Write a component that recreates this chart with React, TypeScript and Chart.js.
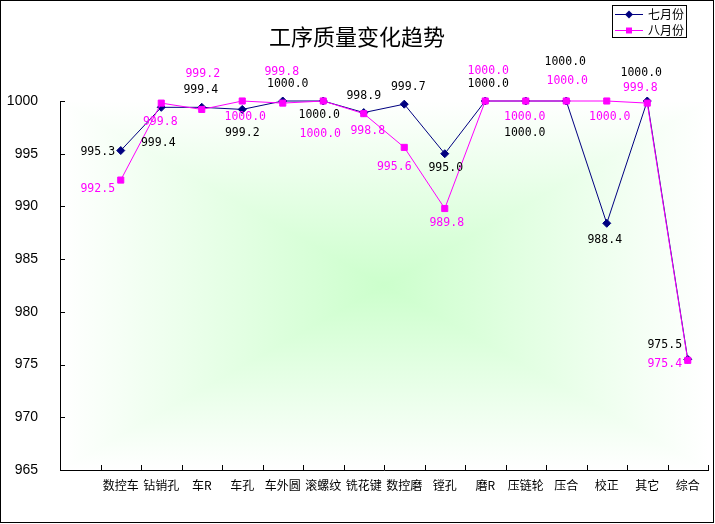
import { useEffect, useRef } from "react"
import { Chart, registerables, type ChartConfiguration, type Plugin } from "chart.js"

Chart.register(...registerables)

// first slot is an empty category, the reference leaves it blank
const categories = ["", "数控车", "钻销孔", "车R", "车孔", "车外圆", "滚螺纹", "铣花键", "数控磨", "镗孔", "磨R", "压链轮", "压合", "校正", "其它", "综合"]
const july = [null, 995.3, 999.4, 999.4, 999.2, 1000.0, 1000.0, 998.9, 999.7, 995.0, 1000.0, 1000.0, 1000.0, 988.4, 1000.0, 975.5]
const august = [null, 992.5, 999.8, 999.2, 1000.0, 999.8, 1000.0, 998.8, 995.6, 989.8, 1000.0, 1000.0, 1000.0, 1000.0, 999.8, 975.4]
const seriesNames = ["七月份", "八月份"]
const yMin = 965
const yMax = 1000
const yStep = 5
const title = "工序质量变化趋势"

// value label placement relative to each point, [dx, dy] in px
const julyLabelOffsets = [
  [0, 0], [-23, 1], [-3, 36], [-1, -17], [0, 24], [5, -17], [-4, 14], [0, -17],
  [4, -17], [1, 14], [3, -17], [-1, 32], [-1, -39], [-2, 17], [-6, -28], [-23, -14],
]
const augustLabelOffsets = [
  [0, 0], [-23, 9], [-1, 19], [1, -35], [3, 16], [-1, -31], [-3, 33], [4, 17],
  [-10, 20], [2, 14], [3, -30], [-1, 16], [1, -20], [3, 16], [-7, -15], [-23, 4],
]

const NAVY = "#000080"
const PINK = "#ff00ff"
const GREEN = "#ccffcc"

const decorPlugin: Plugin<"line"> = {
  id: "decor",
  beforeDraw(chart) {
    const { ctx, chartArea: a } = chart
    ctx.save()
    ctx.fillStyle = "#ffffff"
    ctx.fillRect(0, 0, chart.width, chart.height)

    // rectangular "from centre" gradient of the plot area
    const cx = (a.left + a.right) / 2
    const cy = (a.top + a.bottom) / 2
    const h = ctx.createLinearGradient(a.left, 0, a.right, 0)
    h.addColorStop(0, "#ffffff")
    h.addColorStop(0.5, GREEN)
    h.addColorStop(1, "#ffffff")
    ctx.fillStyle = h
    ctx.fillRect(a.left, a.top, a.right - a.left, a.bottom - a.top)

    const tri = (x1: number, y1: number, x2: number, y2: number, edgeY: number) => {
      const g = ctx.createLinearGradient(0, cy, 0, edgeY)
      g.addColorStop(0, GREEN)
      g.addColorStop(1, "#ffffff")
      ctx.beginPath()
      ctx.moveTo(x1, y1)
      ctx.lineTo(x2, y2)
      ctx.lineTo(cx, cy)
      ctx.closePath()
      ctx.fillStyle = g
      ctx.fill()
    }
    tri(a.left, a.top, a.right, a.top, a.top)
    tri(a.left, a.bottom, a.right, a.bottom, a.bottom)
    ctx.restore()
  },
  afterDatasetsDraw(chart) {
    const { ctx } = chart
    ctx.save()
    ctx.font = '11.5px "DejaVu Sans Mono"'
    ctx.textAlign = "center"
    ctx.textBaseline = "middle"
    const sets = [
      { data: july, offsets: julyLabelOffsets, color: "#000000" },
      { data: august, offsets: augustLabelOffsets, color: PINK },
    ]
    sets.forEach((s, di) => {
      const meta = chart.getDatasetMeta(di)
      meta.data.forEach((pt, i) => {
        const v = s.data[i]
        if (v == null) return
        const [dx, dy] = s.offsets[i]
        ctx.fillStyle = s.color
        ctx.fillText(v.toFixed(1), pt.x + dx, pt.y + dy)
      })
    })
    ctx.restore()
  },
  afterDraw(chart) {
    const { ctx, chartArea: a } = chart
    const xs = chart.scales.x
    const ys = chart.scales.y
    ctx.save()

    // inward tick marks
    ctx.strokeStyle = "#000000"
    ctx.lineWidth = 1
    ctx.beginPath()
    ys.ticks.forEach((t) => {
      const y = Math.round(ys.getPixelForValue(t.value)) + 0.5
      ctx.moveTo(a.left, y)
      ctx.lineTo(a.left + 5, y)
    })
    const half = (xs.getPixelForValue(1) - xs.getPixelForValue(0)) / 2
    for (let i = 0; i <= categories.length; i++) {
      const x = Math.round(xs.getPixelForValue(i) - half) + 0.5
      ctx.moveTo(x, a.bottom)
      ctx.lineTo(x, a.bottom - 5)
    }
    ctx.stroke()

    // title
    ctx.fillStyle = "#000000"
    ctx.font = '22px "Noto Sans CJK SC"'
    ctx.textAlign = "center"
    ctx.textBaseline = "middle"
    ctx.fillText(title, 357, 37)

    // legend
    ctx.fillStyle = "#ffffff"
    ctx.fillRect(612.5, 5.5, 74, 32)
    ctx.strokeRect(612.5, 5.5, 74, 32)
    const rows = [
      { y: 14.5, color: NAVY, shape: "diamond" },
      { y: 30.5, color: PINK, shape: "square" },
    ]
    rows.forEach((r, i) => {
      ctx.strokeStyle = r.color
      ctx.beginPath()
      ctx.moveTo(615, r.y)
      ctx.lineTo(643, r.y)
      ctx.stroke()
      ctx.fillStyle = r.color
      ctx.beginPath()
      if (r.shape === "diamond") {
        ctx.moveTo(629, r.y - 4)
        ctx.lineTo(633, r.y)
        ctx.lineTo(629, r.y + 4)
        ctx.lineTo(625, r.y)
        ctx.closePath()
      } else {
        ctx.rect(626, r.y - 3, 6, 6)
      }
      ctx.fill()
      ctx.fillStyle = "#000000"
      ctx.font = '12px "Noto Sans CJK SC"'
      ctx.textAlign = "left"
      ctx.fillText(seriesNames[i], 648, r.y)
    })

    // outer frame
    ctx.strokeStyle = "#000000"
    ctx.strokeRect(0.5, 0.5, 713, 522)
    ctx.restore()
  },
}

export default function App() {
  const canvasRef = useRef<HTMLCanvasElement>(null)
  const chartRef = useRef<Chart | null>(null)

  useEffect(() => {
    document.body.style.margin = "0"
    if (!canvasRef.current) return
    if (chartRef.current) chartRef.current.destroy()

    const config: ChartConfiguration<"line"> = {
      type: "line",
      data: {
        labels: categories,
        datasets: [
          {
            label: seriesNames[0],
            data: july,
            borderColor: NAVY,
            backgroundColor: NAVY,
            borderWidth: 1,
            pointStyle: "rectRot",
            pointRadius: 4,
            pointBorderWidth: 1,
            pointBorderColor: NAVY,
            pointBackgroundColor: NAVY,
            tension: 0,
            clip: false,
            order: 2,
          },
          {
            label: seriesNames[1],
            data: august,
            borderColor: PINK,
            backgroundColor: PINK,
            borderWidth: 1,
            pointStyle: "rect",
            pointRadius: 4.3,
            pointBorderWidth: 1,
            pointBorderColor: PINK,
            pointBackgroundColor: PINK,
            tension: 0,
            clip: false,
            order: 1,
          },
        ],
      },
      options: {
        responsive: false,
        animation: false,
        devicePixelRatio: 1,
        layout: { padding: { top: 101, right: 7, bottom: 0, left: 0 } },
        plugins: {
          legend: { display: false },
          title: { display: false },
          tooltip: { enabled: false },
        },
        scales: {
          x: {
            type: "category",
            offset: true,
            grid: { display: false, offset: true, drawTicks: false },
            border: { display: true, color: "#000000", width: 1 },
            ticks: {
              autoSkip: false,
              maxRotation: 0,
              minRotation: 0,
              padding: 8,
              color: "#000000",
              font: { family: "Noto Sans CJK SC", size: 12 },
            },
            afterFit: (s) => {
              s.height = 54
            },
          },
          y: {
            min: yMin,
            max: yMax,
            grid: { display: false, drawTicks: false },
            border: { display: true, color: "#000000", width: 1 },
            ticks: {
              stepSize: yStep,
              padding: 22,
              color: "#000000",
              font: { family: "Liberation Sans", size: 14 },
              callback: (v) => String(v),
            },
            afterFit: (s) => {
              s.width = 60
            },
          },
        },
      },
      plugins: [decorPlugin],
    }

    chartRef.current = new Chart(canvasRef.current, config)
    return () => {
      chartRef.current?.destroy()
      chartRef.current = null
    }
  }, [])

  return (
    <div style={{ width: 715, height: 524 }}>
      <canvas ref={canvasRef} width={715} height={524} style={{ display: "block" }} />
    </div>
  )
}
